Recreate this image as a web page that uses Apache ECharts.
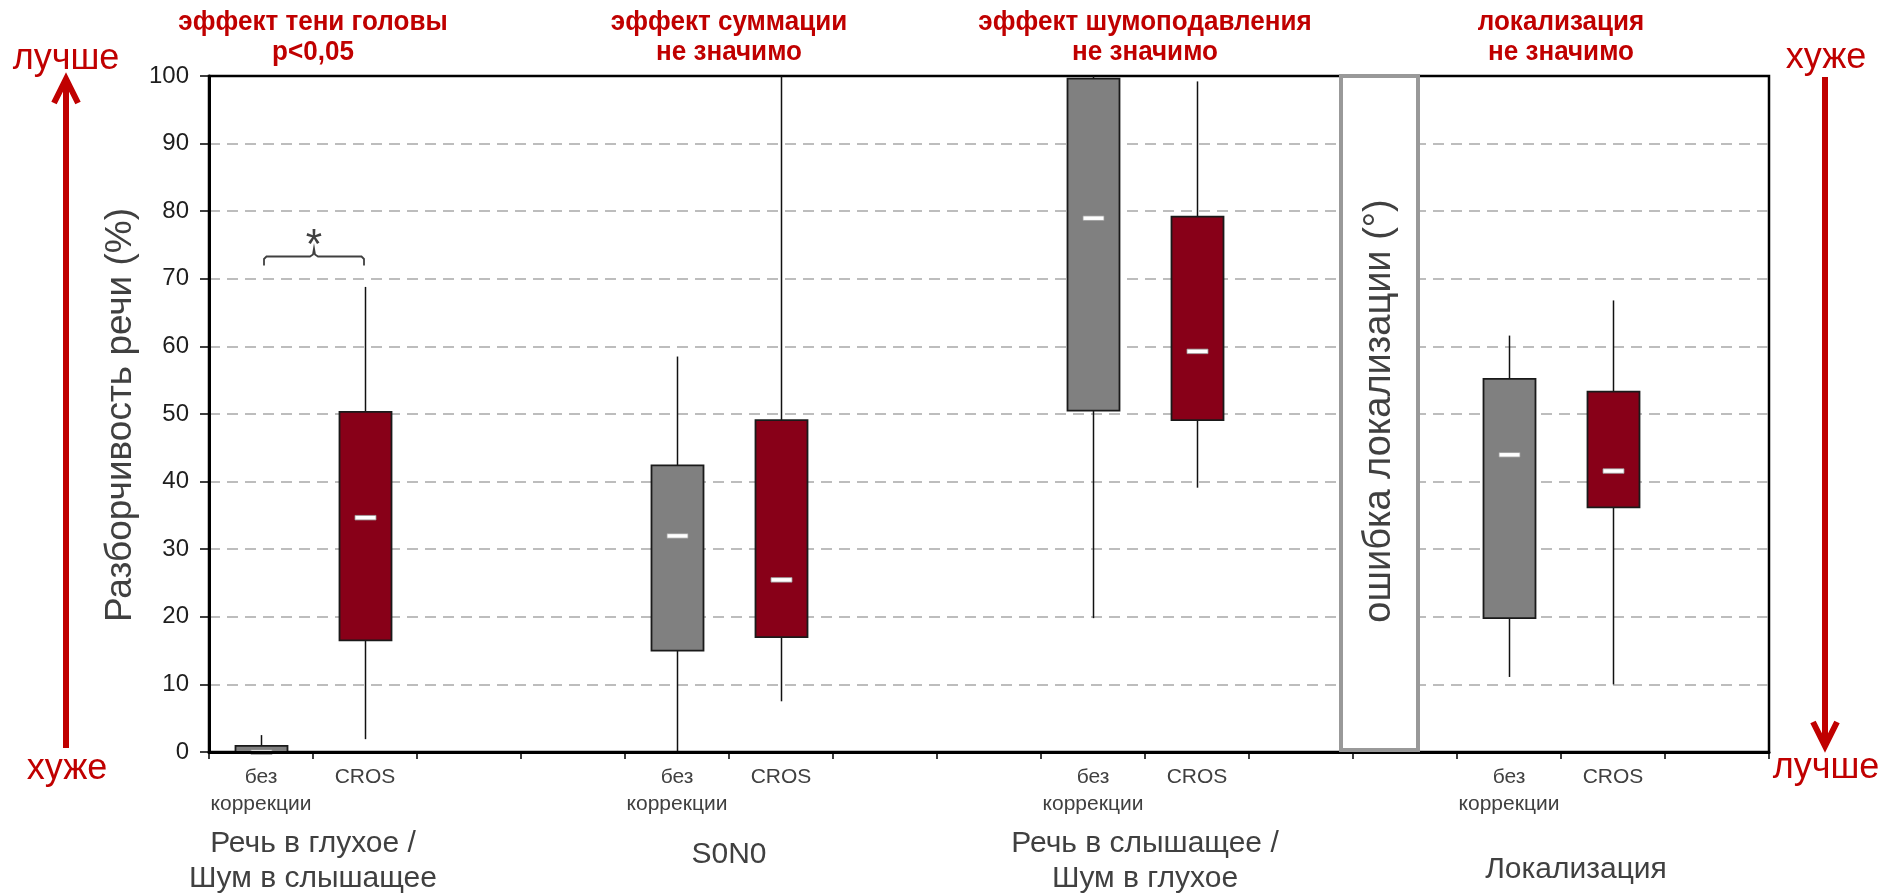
<!DOCTYPE html>
<html>
<head>
<meta charset="utf-8">
<script src="https://cdn.jsdelivr.net/npm/echarts@6/dist/echarts.min.js"></script>
<style>
  html, body { margin: 0; padding: 0; background: #fff; }
  #chart { width: 1895px; height: 895px; }
</style>
</head>
<body>
<div id="chart"></div>
<script>
// Category slots along the x axis (blank slots separate the test conditions)
const categories = ['без\nкоррекции', 'CROS', '', '', 'без\nкоррекции', 'CROS', '', '',
                    'без\nкоррекции', 'CROS', '', '', 'без\nкоррекции', 'CROS', ''];
const noCorrectionSlots = [0, 4, 8, 12];
const crosSlots = [1, 5, 9, 13];

// Box statistics per condition: [min, Q1, median, Q3, max]
const noCorrectionStats = [
  [0, 0, 0, 0.9, 2.5],
  [0, 15, 32, 42.4, 58.5],
  [19.8, 50.5, 79, 99.6, 100],
  [11.1, 19.8, 44, 55.2, 61.6]
];
const crosStats = [
  [1.9, 16.5, 34.7, 50.3, 68.8],
  [7.5, 17, 25.5, 49.1, 100],
  [39.1, 49.1, 59.3, 79.2, 99.2],
  [10, 36.2, 41.6, 53.3, 66.8]
];

const groupNames = ['Речь в глухое /\nШум в слышащее', 'S0N0', 'Речь в слышащее /\nШум в глухое', 'Локализация'];
const effectTitles = ['эффект тени головы', 'эффект суммации', 'эффект шумоподавления', 'локализация'];
const effectResults = ['p<0,05', 'не значимо', 'не значимо', 'не значимо'];
const yAxisTitle = 'Разборчивость речи (%)';
const localizationTitle = 'ошибка локализации (°)';
const yTicks = { min: 0, max: 100, step: 10 };

const FONT = '"Liberation Sans", Arial, sans-serif';
const RED = '#C00000';
const TEXT = '#404040';

function boxRenderer(fill) {
  return function (params, api) {
    const c = api.value(0);
    const p = [1, 2, 3, 4, 5].map(i => api.coord([c, api.value(i)]));
    const x = Math.round(p[0][0]) + 0.5;
    const w = api.size([1, 0])[0] * 0.5;
    return {
      type: 'group',
      children: [
        { type: 'line', shape: { x1: x, y1: p[0][1], x2: x, y2: p[1][1] },
          style: { stroke: '#111', lineWidth: 1.5 } },
        { type: 'line', shape: { x1: x, y1: p[3][1], x2: x, y2: p[4][1] },
          style: { stroke: '#111', lineWidth: 1.5 } },
        { type: 'rect', shape: { x: x - w / 2, y: p[3][1], width: w, height: p[1][1] - p[3][1] },
          style: { fill: fill, stroke: '#1a1a1a', lineWidth: 1.8 } },
        { type: 'rect', shape: { x: x - 10.5, y: p[2][1] - 2, width: 21, height: 4.5 },
          style: { fill: '#ffffff', stroke: '#9a9a9a', lineWidth: 0.8 } }
      ]
    };
  };
}

const chart = echarts.init(document.getElementById('chart'), null, { renderer: 'canvas' });

const option = {
  animation: false,
  backgroundColor: '#ffffff',
  grid: { left: 209, right: 126, top: 76, bottom: 143, show: true,
          borderColor: '#000', borderWidth: 2.5, containLabel: false },
  xAxis: {
    type: 'category',
    data: categories,
    boundaryGap: true,
    z: 5,
    axisLine: { show: true, lineStyle: { color: '#000', width: 3 } },
    axisTick: { show: true, interval: 0, length: 7, lineStyle: { color: '#000', width: 1.5 } },
    axisLabel: { interval: 0, margin: 12, fontSize: 21, lineHeight: 27, color: TEXT, fontFamily: FONT },
    splitLine: { show: false }
  },
  yAxis: {
    type: 'value',
    min: yTicks.min, max: yTicks.max, interval: yTicks.step,
    axisLine: { show: true, lineStyle: { color: '#000', width: 3 } },
    axisTick: { show: true, length: 9, lineStyle: { color: '#000', width: 1.5 } },
    axisLabel: { margin: 20, fontSize: 24, color: '#1e1e1e', fontFamily: FONT },
    splitLine: { show: true, showMinLine: false, showMaxLine: false,
                 lineStyle: { color: '#a8a8a8', width: 1.5, type: [11, 7] } }
  },
  series: [
    { name: 'без коррекции', type: 'custom', z: 2, renderItem: boxRenderer('#808080'),
      data: noCorrectionSlots.map((s, i) => [s].concat(noCorrectionStats[i])) },
    { name: 'CROS', type: 'custom', z: 2, renderItem: boxRenderer('#880018'),
      data: crosSlots.map((s, i) => [s].concat(crosStats[i])) }
  ]
};
chart.setOption(option);

// Annotation layer positioned from the axes
const xc = i => chart.convertToPixel({ xAxisIndex: 0 }, i);
const yc = v => chart.convertToPixel({ yAxisIndex: 0 }, v);
const between = i => (xc(i - 1) + xc(i)) / 2;
const yTop = yc(yTicks.max), yBottom = yc(yTicks.min);

const graphics = [];
const groupY = [861, 855, 861, 870];
const groupShift = [0, 0, 0, 15];
crosSlots.forEach((s, k) => {
  const cx = between(s);
  graphics.push({ type: 'text', z: 10, x: cx, y: 22, scaleX: 0.93,
    style: { text: effectTitles[k], fill: RED, font: 'bold 28px ' + FONT, align: 'center', verticalAlign: 'middle' } });
  graphics.push({ type: 'text', z: 10, x: cx, y: 52, scaleX: 0.93,
    style: { text: effectResults[k], fill: RED, font: 'bold 28px ' + FONT, align: 'center', verticalAlign: 'middle' } });
  graphics.push({ type: 'text', z: 10, x: cx + groupShift[k], y: groupY[k],
    style: { text: groupNames[k], fill: TEXT, font: '30px ' + FONT, lineHeight: 35, align: 'center', verticalAlign: 'middle' } });
});

// y axis title
graphics.push({ type: 'text', z: 10, x: 121, y: (yTop + yBottom) / 2 + 1, rotation: Math.PI / 2,
  style: { text: yAxisTitle, fill: TEXT, font: '37px ' + FONT, align: 'center', verticalAlign: 'middle' } });

// localization error panel
const panelLeft = between(11) - 12, panelRight = between(11) + 65;
graphics.push({ type: 'rect', z: 20, shape: { x: panelLeft, y: yTop, width: panelRight - panelLeft, height: yBottom - yTop - 2 },
  style: { fill: '#ffffff', stroke: '#999999', lineWidth: 4 } });
graphics.push({ type: 'text', z: 21, x: (panelLeft + panelRight) / 2, y: (yTop + yBottom) / 2 - 3, rotation: Math.PI / 2,
  style: { text: localizationTitle, fill: TEXT, font: '38px ' + FONT, align: 'center', verticalAlign: 'middle' } });

// significance bracket between the first two boxes
const bl = xc(0) + 3, br = xc(1) - 1, bm = (bl + br) / 2, by = yc(73.3);
graphics.push({ type: 'polyline', z: 10,
  shape: { points: [[bl, by + 9], [bl, by + 2.5], [bl + 2.5, by], [bm - 4, by], [bm - 1, by - 2], [bm, by - 8],
                    [bm + 1, by - 2], [bm + 4, by], [br - 2.5, by], [br, by + 2.5], [br, by + 9]] },
  style: { fill: null, stroke: TEXT, lineWidth: 1.8 } });
graphics.push({ type: 'text', z: 10, x: bm, y: by - 10,
  style: { text: '*', fill: TEXT, font: '42px ' + FONT, align: 'center', verticalAlign: 'middle' } });

// "better / worse" direction arrows
function arrow(x, yStart, yEnd, up) {
  const tip = up ? yStart : yEnd;
  const d = up ? 24 : -24;
  graphics.push({ type: 'line', z: 10, shape: { x1: x, y1: yStart + (up ? 3 : 0), x2: x, y2: yEnd - (up ? 0 : 3) },
    style: { stroke: RED, lineWidth: 6 } });
  graphics.push({ type: 'polyline', z: 10, shape: { points: [[x - 12, tip + d], [x, tip], [x + 12, tip + d]] },
    style: { stroke: RED, lineWidth: 6, fill: null, lineJoin: 'miter' } });
}
arrow(66, 79, 748, true);
arrow(1825, 77, 746, false);
const side = (t, x, y) => graphics.push({ type: 'text', z: 10, x: x, y: y,
  style: { text: t, fill: RED, font: '36px ' + FONT, align: 'center', verticalAlign: 'middle' } });
side('лучше', 66, 59);
side('хуже', 67, 769);
side('хуже', 1826, 58);
side('лучше', 1826, 768);

chart.setOption({ graphic: { elements: graphics } });
</script>
</body>
</html>
